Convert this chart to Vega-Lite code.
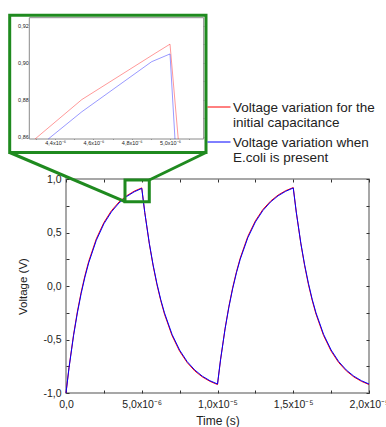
{
  "$schema": "https://vega.github.io/schema/vega-lite/v6.json",
  "width": 303,
  "height": 214,
  "autosize": {"type": "none"},
  "padding": {"left": 66, "top": 179, "right": 17, "bottom": 34},
  "background": "white",
  "config": {
    "font": "Liberation Sans",
    "view": {"stroke": "#8a8a8a", "strokeWidth": 1.5},
    "axis": {"grid": false, "domain": false, "tickColor": "#333", "labelColor": "#222", "titleColor": "#222", "labelFont": "Liberation Sans", "titleFont": "Liberation Sans", "titleFontWeight": "normal", "labelFlush": false, "labelOverlap": false}
  },
  "datasets": {
    "main": [
      {"t":0,"v":-1,"s":"initial"},{"t":0.2e-6,"v":-0.761,"s":"initial"},{"t":0.5e-6,"v":-0.455,"s":"initial"},{"t":0.75e-6,"v":-0.240,"s":"initial"},{"t":1e-6,"v":-0.058,"s":"initial"},{"t":1.25e-6,"v":0.098,"s":"initial"},{"t":1.5e-6,"v":0.231,"s":"initial"},{"t":2e-6,"v":0.441,"s":"initial"},{"t":2.5e-6,"v":0.593,"s":"initial"},{"t":3e-6,"v":0.704,"s":"initial"},{"t":3.5e-6,"v":0.785,"s":"initial"},{"t":4e-6,"v":0.843,"s":"initial"},{"t":4.5e-6,"v":0.886,"s":"initial"},{"t":5e-6,"v":0.917,"s":"initial"},
      {"t":5.2e-6,"v":0.688,"s":"initial"},{"t":5.5e-6,"v":0.394,"s":"initial"},{"t":5.75e-6,"v":0.189,"s":"initial"},{"t":6e-6,"v":0.014,"s":"initial"},{"t":6.25e-6,"v":-0.135,"s":"initial"},{"t":6.5e-6,"v":-0.263,"s":"initial"},{"t":7e-6,"v":-0.464,"s":"initial"},{"t":7.5e-6,"v":-0.610,"s":"initial"},{"t":8e-6,"v":-0.716,"s":"initial"},{"t":8.5e-6,"v":-0.794,"s":"initial"},{"t":9e-6,"v":-0.850,"s":"initial"},{"t":9.5e-6,"v":-0.891,"s":"initial"},{"t":10e-6,"v":-0.921,"s":"initial"},
      {"t":10.2e-6,"v":-0.691,"s":"initial"},{"t":10.5e-6,"v":-0.397,"s":"initial"},{"t":10.75e-6,"v":-0.191,"s":"initial"},{"t":11e-6,"v":-0.016,"s":"initial"},{"t":11.25e-6,"v":0.133,"s":"initial"},{"t":11.5e-6,"v":0.261,"s":"initial"},{"t":12e-6,"v":0.463,"s":"initial"},{"t":12.5e-6,"v":0.609,"s":"initial"},{"t":13e-6,"v":0.716,"s":"initial"},{"t":13.5e-6,"v":0.793,"s":"initial"},{"t":14e-6,"v":0.850,"s":"initial"},{"t":14.5e-6,"v":0.891,"s":"initial"},{"t":15e-6,"v":0.920,"s":"initial"},
      {"t":15.2e-6,"v":0.690,"s":"initial"},{"t":15.5e-6,"v":0.396,"s":"initial"},{"t":15.75e-6,"v":0.191,"s":"initial"},{"t":16e-6,"v":0.015,"s":"initial"},{"t":16.25e-6,"v":-0.134,"s":"initial"},{"t":16.5e-6,"v":-0.262,"s":"initial"},{"t":17e-6,"v":-0.463,"s":"initial"},{"t":17.5e-6,"v":-0.609,"s":"initial"},{"t":18e-6,"v":-0.716,"s":"initial"},{"t":18.5e-6,"v":-0.793,"s":"initial"},{"t":19e-6,"v":-0.850,"s":"initial"},{"t":19.5e-6,"v":-0.891,"s":"initial"},{"t":20e-6,"v":-0.921,"s":"initial"},
      {"t":0,"v":-1,"s":"ecoli"},{"t":0.2e-6,"v":-0.765,"s":"ecoli"},{"t":0.5e-6,"v":-0.463,"s":"ecoli"},{"t":0.75e-6,"v":-0.252,"s":"ecoli"},{"t":1e-6,"v":-0.071,"s":"ecoli"},{"t":1.25e-6,"v":0.084,"s":"ecoli"},{"t":1.5e-6,"v":0.217,"s":"ecoli"},{"t":2e-6,"v":0.427,"s":"ecoli"},{"t":2.5e-6,"v":0.581,"s":"ecoli"},{"t":3e-6,"v":0.693,"s":"ecoli"},{"t":3.5e-6,"v":0.776,"s":"ecoli"},{"t":4e-6,"v":0.836,"s":"ecoli"},{"t":4.5e-6,"v":0.880,"s":"ecoli"},{"t":5e-6,"v":0.912,"s":"ecoli"},
      {"t":5.2e-6,"v":0.687,"s":"ecoli"},{"t":5.5e-6,"v":0.399,"s":"ecoli"},{"t":5.75e-6,"v":0.197,"s":"ecoli"},{"t":6e-6,"v":0.024,"s":"ecoli"},{"t":6.25e-6,"v":-0.125,"s":"ecoli"},{"t":6.5e-6,"v":-0.251,"s":"ecoli"},{"t":7e-6,"v":-0.452,"s":"ecoli"},{"t":7.5e-6,"v":-0.599,"s":"ecoli"},{"t":8e-6,"v":-0.707,"s":"ecoli"},{"t":8.5e-6,"v":-0.785,"s":"ecoli"},{"t":9e-6,"v":-0.843,"s":"ecoli"},{"t":9.5e-6,"v":-0.885,"s":"ecoli"},{"t":10e-6,"v":-0.916,"s":"ecoli"},
      {"t":10.2e-6,"v":-0.691,"s":"ecoli"},{"t":10.5e-6,"v":-0.402,"s":"ecoli"},{"t":10.75e-6,"v":-0.199,"s":"ecoli"},{"t":11e-6,"v":-0.026,"s":"ecoli"},{"t":11.25e-6,"v":0.123,"s":"ecoli"},{"t":11.5e-6,"v":0.250,"s":"ecoli"},{"t":12e-6,"v":0.451,"s":"ecoli"},{"t":12.5e-6,"v":0.598,"s":"ecoli"},{"t":13e-6,"v":0.706,"s":"ecoli"},{"t":13.5e-6,"v":0.785,"s":"ecoli"},{"t":14e-6,"v":0.843,"s":"ecoli"},{"t":14.5e-6,"v":0.885,"s":"ecoli"},{"t":15e-6,"v":0.916,"s":"ecoli"},
      {"t":15.2e-6,"v":0.691,"s":"ecoli"},{"t":15.5e-6,"v":0.402,"s":"ecoli"},{"t":15.75e-6,"v":0.199,"s":"ecoli"},{"t":16e-6,"v":0.026,"s":"ecoli"},{"t":16.25e-6,"v":-0.123,"s":"ecoli"},{"t":16.5e-6,"v":-0.250,"s":"ecoli"},{"t":17e-6,"v":-0.451,"s":"ecoli"},{"t":17.5e-6,"v":-0.598,"s":"ecoli"},{"t":18e-6,"v":-0.706,"s":"ecoli"},{"t":18.5e-6,"v":-0.785,"s":"ecoli"},{"t":19e-6,"v":-0.843,"s":"ecoli"},{"t":19.5e-6,"v":-0.885,"s":"ecoli"},{"t":20e-6,"v":-0.916,"s":"ecoli"}
    ],
    "inset": [
      {"t":4.295e-6,"v":0.8587,"s":"initial"},{"t":4.539e-6,"v":0.880,"s":"initial"},{"t":4.922e-6,"v":0.905,"s":"initial"},{"t":5.0e-6,"v":0.910,"s":"initial"},{"t":5.043e-6,"v":0.8587,"s":"initial"},
      {"t":4.364e-6,"v":0.8587,"s":"ecoli"},{"t":4.539e-6,"v":0.8734,"s":"ecoli"},{"t":4.904e-6,"v":0.9005,"s":"ecoli"},{"t":5.0e-6,"v":0.9047,"s":"ecoli"},{"t":5.026e-6,"v":0.8587,"s":"ecoli"}
    ],
    "zoom": [
      {"region":"inset frame","x0":-3.716e-6,"x1":9.241e-6,"v0":1.2477,"v1":2.530},
      {"region":"zoomed window","x0":3.894e-6,"x1":5.498e-6,"v0":0.7879,"v1":0.9907}
    ],
    "links": [
      {"x0":-3.716e-6,"v0":1.2477,"x1":3.894e-6,"v1":0.7879},
      {"x0":9.241e-6,"v0":1.2477,"x1":5.498e-6,"v1":0.9907}
    ],
    "insetBox": [
      {"x0":4.265e-6,"x1":5.176e-6,"v0":0.8587,"v1":0.9243}
    ]
  },
  "resolve": {"scale": {"x": "independent", "y": "independent"}},
  "layer": [
    {
      "data": {"name": "main"},
      "mark": {"type": "line", "strokeWidth": 1},
      "encoding": {
        "x": {"field": "t", "type": "quantitative",
          "scale": {"domain": [0, 2e-5], "nice": false, "zero": false},
          "axis": {"orient": "bottom", "values": [0, 2.5e-6, 5e-6, 7.5e-6, 1e-5, 1.25e-5, 1.5e-5, 1.75e-5, 2e-5],
            "labelExpr": "abs(datum.value) < 1e-9 ? '0,0' : abs(datum.value - 5e-6) < 1e-9 ? '5,0x10⁻⁶' : abs(datum.value - 1e-5) < 1e-9 ? '1,0x10⁻⁵' : abs(datum.value - 1.5e-5) < 1e-9 ? '1,5x10⁻⁵' : abs(datum.value - 2e-5) < 1e-9 ? '2,0x10⁻⁵' : ''",
            "tickSize": -3, "labelFontSize": 10.5, "labelPadding": 9, "title": "Time (s)", "titleFontSize": 12, "titlePadding": 6}},
        "y": {"field": "v", "type": "quantitative",
          "scale": {"domain": [-1, 1], "nice": false, "zero": false},
          "axis": {"orient": "left", "values": [-1, -0.75, -0.5, -0.25, 0, 0.25, 0.5, 0.75, 1],
            "labelExpr": "datum.value == 1 ? '1,0' : datum.value == 0.5 ? '0,5' : datum.value == 0 ? '0,0' : datum.value == -0.5 ? '-0,5' : datum.value == -1 ? '-1,0' : ''",
            "tickSize": -3, "labelFontSize": 10.5, "labelPadding": 8, "title": "Voltage (V)", "titleFontSize": 11.5, "titlePadding": 14}},
        "color": {"field": "s", "type": "nominal",
          "scale": {"domain": ["initial", "ecoli"], "range": ["#ff0000", "#0000ff"]},
          "legend": {"orient": "none", "legendX": 141, "legendY": -84, "title": null, "symbolType": "stroke", "symbolSize": 529, "symbolStrokeWidth": 1, "labelFontSize": 13.5, "labelFont": "Liberation Sans", "labelColor": "#222", "labelOffset": 2, "rowPadding": 0, "labelLimit": 400, "padding": 0, "labelBaseline": "top",
            "encode": {"labels": {"update": {"dy": {"value": -6}, "lineHeight": {"value": 15}}}},
            "labelExpr": "datum.label == 'initial' ? ['Voltage variation for the', 'initial capacitance'] : ['Voltage variation when', 'E.coli is present']"}}
      }
    },
    {
      "data": {"name": "zoom"},
      "mark": {"type": "rect", "filled": false, "color": "#1f8a1f", "strokeWidth": 3},
      "encoding": {
        "x": {"field": "x0", "type": "quantitative",
          "scale": {"domain": [0, 2e-5], "nice": false, "zero": false},
          "axis": {"orient": "top", "values": [0, 2.5e-6, 5e-6, 7.5e-6, 1e-5, 1.25e-5, 1.5e-5, 1.75e-5, 2e-5], "labels": false, "tickSize": -3, "title": null}},
        "x2": {"field": "x1"},
        "y": {"field": "v0", "type": "quantitative",
          "scale": {"domain": [-1, 1], "nice": false, "zero": false},
          "axis": {"orient": "right", "values": [-1, -0.75, -0.5, -0.25, 0, 0.25, 0.5, 0.75, 1], "labels": false, "tickSize": -3, "title": null}},
        "y2": {"field": "v1"}
      }
    },
    {
      "data": {"name": "links"},
      "mark": {"type": "rule", "color": "#1f8a1f", "strokeWidth": 3},
      "encoding": {
        "x": {"field": "x0", "type": "quantitative", "scale": {"domain": [0, 2e-5], "nice": false, "zero": false}, "axis": null},
        "x2": {"field": "x1"},
        "y": {"field": "v0", "type": "quantitative", "scale": {"domain": [-1, 1], "nice": false, "zero": false}, "axis": null},
        "y2": {"field": "v1"}
      }
    },
    {
      "data": {"name": "insetBox"},
      "mark": {"type": "rect", "fill": "white", "stroke": "#8a8a8a", "strokeWidth": 1},
      "encoding": {
        "x": {"field": "x0", "type": "quantitative",
          "scale": {"domain": [4.265e-6, 5.176e-6], "range": [-36.7, 137.7], "nice": false, "zero": false},
          "axis": {"orient": "top", "offset": 161.3, "values": [4.3e-6, 4.4e-6, 4.5e-6, 4.6e-6, 4.7e-6, 4.8e-6, 4.9e-6, 5.0e-6, 5.1e-6], "labels": false, "tickSize": -2, "title": null}},
        "x2": {"field": "x1"},
        "y": {"field": "v0", "type": "quantitative",
          "scale": {"domain": [0.8587, 0.9243], "range": [-40, -161.3], "nice": false, "zero": false},
          "axis": {"orient": "right", "offset": -165.3, "values": [0.86, 0.87, 0.88, 0.89, 0.90, 0.91, 0.92], "labels": false, "tickSize": -2, "title": null}},
        "y2": {"field": "v1"}
      }
    },
    {
      "data": {"name": "inset"},
      "mark": {"type": "line", "strokeWidth": 0.8, "opacity": 0.5},
      "encoding": {
        "x": {"field": "t", "type": "quantitative",
          "scale": {"domain": [4.265e-6, 5.176e-6], "range": [-36.7, 137.7], "nice": false, "zero": false},
          "axis": {"orient": "bottom", "offset": -254, "values": [4.3e-6, 4.4e-6, 4.5e-6, 4.6e-6, 4.7e-6, 4.8e-6, 4.9e-6, 5.0e-6, 5.1e-6],
            "labelExpr": "abs(datum.value - 4.4e-6) < 1e-9 ? '4,4x10⁻⁶' : abs(datum.value - 4.6e-6) < 1e-9 ? '4,6x10⁻⁶' : abs(datum.value - 4.8e-6) < 1e-9 ? '4,8x10⁻⁶' : abs(datum.value - 5.0e-6) < 1e-9 ? '5,0x10⁻⁶' : ''",
            "tickSize": -2, "labelFontSize": 5.5, "labelPadding": 3, "title": null}},
        "y": {"field": "v", "type": "quantitative",
          "scale": {"domain": [0.8587, 0.9243], "range": [-40, -161.3], "nice": false, "zero": false},
          "axis": {"orient": "left", "offset": 36.7, "values": [0.86, 0.87, 0.88, 0.89, 0.90, 0.91, 0.92],
            "labelExpr": "abs(datum.value - 0.86) < 1e-4 ? '0,86' : abs(datum.value - 0.88) < 1e-4 ? '0,88' : abs(datum.value - 0.9) < 1e-4 ? '0,90' : abs(datum.value - 0.92) < 1e-4 ? '0,92' : ''",
            "tickSize": -2, "labelFontSize": 5.5, "labelPadding": 3, "title": null}},
        "color": {"field": "s", "type": "nominal",
          "scale": {"domain": ["initial", "ecoli"], "range": ["#ff0000", "#0000ff"]},
          "legend": {"orient": "none", "legendX": 141, "legendY": -84, "title": null, "symbolType": "stroke", "symbolSize": 529, "symbolStrokeWidth": 1, "labelFontSize": 13.5, "labelFont": "Liberation Sans", "labelColor": "#222", "labelOffset": 2, "rowPadding": 0, "labelLimit": 400, "padding": 0, "labelBaseline": "top",
            "encode": {"labels": {"update": {"dy": {"value": -6}, "lineHeight": {"value": 15}}}},
            "labelExpr": "datum.label == 'initial' ? ['Voltage variation for the', 'initial capacitance'] : ['Voltage variation when', 'E.coli is present']"}}
      }
    }
  ]
}
